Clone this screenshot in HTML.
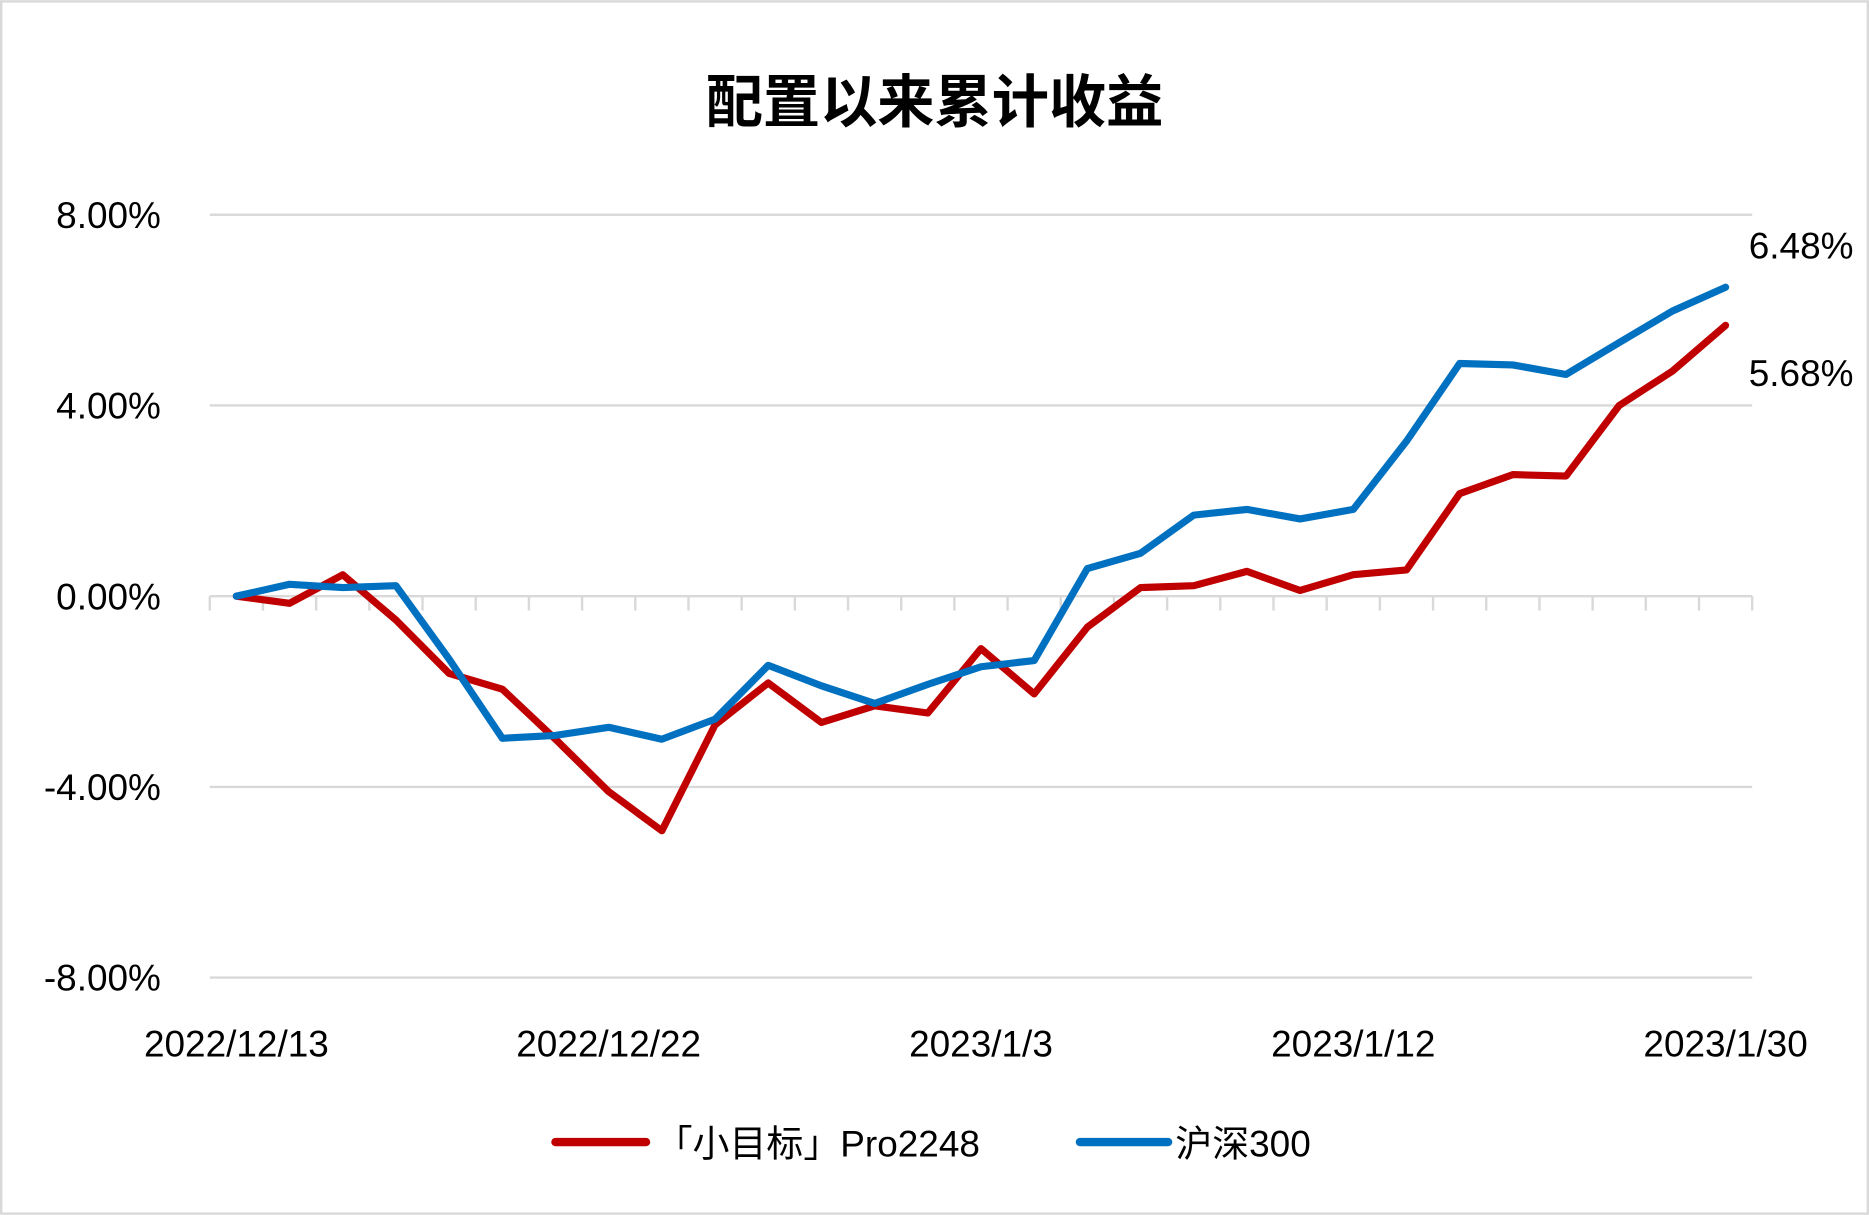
<!DOCTYPE html>
<html><head><meta charset="utf-8"><style>
html,body{margin:0;padding:0;background:#fff}
svg{display:block}
text{font-family:"Liberation Sans","Noto Sans CJK SC",sans-serif;fill:#000}
</style></head><body>
<svg id="chart" width="1869" height="1215" viewBox="0 0 1568 1019" xmlns="http://www.w3.org/2000/svg">
<rect x="1" y="1" width="1566" height="1017" fill="#fff" stroke="#d9d9d9" stroke-width="2"/>
<text x="784" y="102" text-anchor="middle" font-size="48" font-weight="bold">配置以来累计收益</text>
<g id="grid"></g>
<g id="yaxis"></g>
<g id="xaxis"></g>
<g id="series"></g>
<g>
<line x1="466" y1="958" x2="542" y2="958" stroke="#c00000" stroke-width="7" stroke-linecap="round"/>
<text x="550" y="970" font-size="31">「小目标」Pro2248</text>
<line x1="906" y1="958" x2="980" y2="958" stroke="#0070c0" stroke-width="7" stroke-linecap="round"/>
<text x="986" y="970" font-size="31">沪深300</text>
</g>
</svg>
<script>
const yTicks=[8,4,0,-4,-8];
const yTickLabels=["8.00%","4.00%","0.00%","-4.00%","-8.00%"];
const xLabels=["2022/12/13","2022/12/22","2023/1/3","2023/1/12","2023/1/30"];
const xLabelIdx=[0,7,14,21,28];
const proValues=[0,-0.15,0.45,-0.5,-1.62,-1.95,-3.0,-4.1,-4.92,-2.7,-1.82,-2.65,-2.3,-2.45,-1.1,-2.05,-0.65,0.18,0.22,0.52,0.12,0.45,0.55,2.15,2.55,2.52,4.0,4.72,5.68];
const hsValues=[0,0.25,0.18,0.22,-1.32,-2.98,-2.92,-2.75,-3.0,-2.58,-1.45,-1.88,-2.25,-1.85,-1.48,-1.35,0.58,0.9,1.7,1.82,1.62,1.82,3.25,4.88,4.85,4.65,5.32,5.98,6.48];
const endLabels=["5.68%","6.48%"];

const NS="http://www.w3.org/2000/svg";
const n=proValues.length;
const x0=176,x1=1470,step=(x1-x0)/n;
const X=i=>x0+step*(i+0.5);
const Y=v=>500-v*40;
function mk(tag,attrs,parent){const e=document.createElementNS(NS,tag);for(const k in attrs)e.setAttribute(k,attrs[k]);parent.appendChild(e);return e;}
const grid=document.getElementById('grid'),ya=document.getElementById('yaxis'),xa=document.getElementById('xaxis'),ser=document.getElementById('series');
yTicks.forEach((v,i)=>{
  const l=mk('line',{x1:x0,x2:x1,y1:Y(v),y2:Y(v),stroke:'#d9d9d9','stroke-width':2},grid);
  
  
  const t=mk('text',{x:135,y:Y(v)+11,'text-anchor':'end','font-size':31},ya);
  
  
  t.textContent=yTickLabels[i];
});
for(let i=0;i<=n;i++){
  const tk=mk('line',{x1:x0+step*i,x2:x0+step*i,y1:Y(0),y2:Y(0)+12,stroke:'#d9d9d9','stroke-width':2},xa);
  
  
}
xLabels.forEach((s,i)=>{
  const t=mk('text',{x:X(xLabelIdx[i]),y:886,'text-anchor':'middle','font-size':31},xa);
  
  
  t.textContent=s;
});
function line(vals,color,name){
  const p=mk('polyline',{points:vals.map((v,i)=>X(i)+','+Y(v)).join(' '),fill:'none',stroke:color,'stroke-width':6,'stroke-linejoin':'round','stroke-linecap':'round'},ser);
  
  
}
line(proValues,'#c00000','line-pro2248');
line(hsValues,'#0070c0','line-hs300');
const l1=mk('text',{x:1555,y:Y(proValues[n-1])+51,'text-anchor':'end','font-size':31},ser);


l1.textContent=endLabels[0];
const l2=mk('text',{x:1555,y:Y(hsValues[n-1])-24,'text-anchor':'end','font-size':31},ser);


l2.textContent=endLabels[1];
</script>
</body></html>
